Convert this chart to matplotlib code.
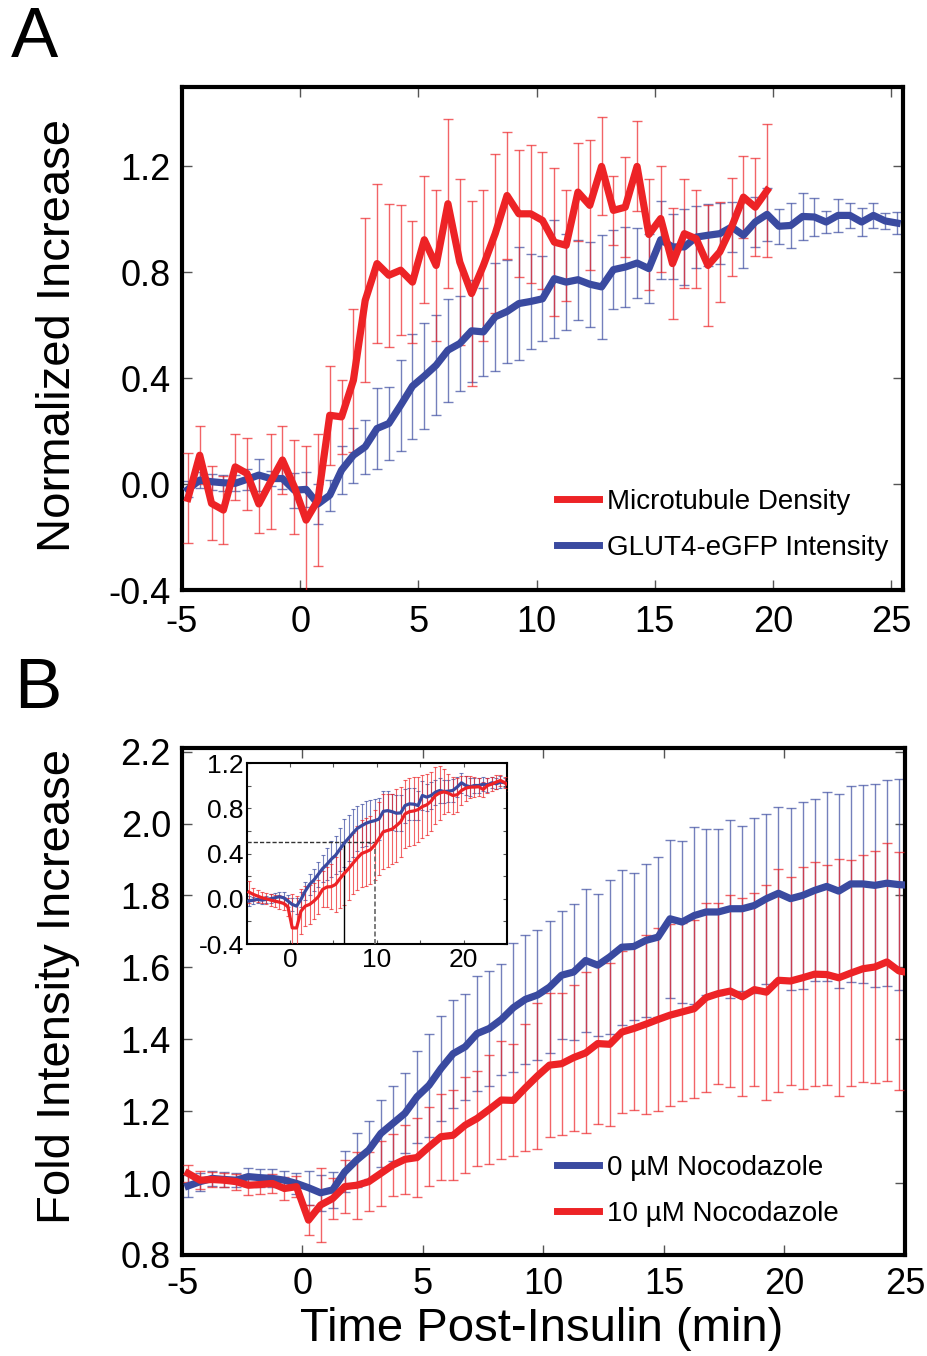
import matplotlib
matplotlib.use("Agg")
import matplotlib.pyplot as plt
from matplotlib.colors import to_rgba
from matplotlib.ticker import MultipleLocator, FormatStrFormatter
import numpy as np

plt.rcParams['font.family'] = ['Liberation Sans', 'DejaVu Sans']
plt.rcParams['axes.unicode_minus'] = False

RED = '#ed2326'
BLUE = '#3a4aa0'
TICK_GREY = '#555555'

###================ Data =================###

# sampling grid, 0.5 min frames
time = np.arange(-4.75, 25.26, 0.5)
time_mt = time[:50]   # microtubule density only imaged to ~20 min

# Panel A
mt_density = [
    -0.054, 0.109, -0.073, -0.098, 0.065, 0.040, -0.075, 0.009, 0.091, -0.010,
    -0.136, -0.060, 0.260, 0.254, 0.392, 0.694, 0.833, 0.789, 0.808, 0.763,
    0.923, 0.826, 1.059, 0.839, 0.720, 0.826, 0.946, 1.090, 1.021, 1.021,
    0.996, 0.914, 0.902, 1.103, 1.053, 1.200, 1.034, 1.046, 1.200, 0.943,
    1.003, 0.833, 0.946, 0.927, 0.826, 0.877, 0.971, 1.084, 1.046, 1.109,
]
mt_density_err = [
    0.17, 0.11, 0.14, 0.13, 0.126, 0.136, 0.11, 0.18, 0.13, 0.177,
    0.28, 0.25, 0.187, 0.14, 0.27, 0.31, 0.30, 0.27, 0.245, 0.23,
    0.24, 0.285, 0.32, 0.315, 0.35, 0.285, 0.30, 0.24, 0.24, 0.26,
    0.26, 0.28, 0.21, 0.185, 0.245, 0.185, 0.13, 0.19, 0.17, 0.21,
    0.20, 0.21, 0.205, 0.185, 0.23, 0.19, 0.185, 0.155, 0.185, 0.25,
]
glut4_norm = [
    -0.020, 0.015, 0.009, 0.005, 0.003, 0.018, 0.034, 0.021, 0.021, -0.023,
    -0.020, -0.075, -0.042, 0.053, 0.109, 0.141, 0.210, 0.229, 0.298, 0.370,
    0.408, 0.449, 0.506, 0.531, 0.579, 0.575, 0.632, 0.652, 0.682, 0.690,
    0.700, 0.776, 0.763, 0.772, 0.755, 0.745, 0.810, 0.820, 0.835, 0.814,
    0.923, 0.896, 0.896, 0.933, 0.940, 0.946, 0.971, 0.940, 0.990, 1.019,
    0.974, 0.977, 1.011, 1.009, 0.990, 1.015, 1.015, 0.990, 1.015, 0.994,
    0.986,
]
glut4_norm_err = [
    0.03, 0.03, 0.03, 0.03, 0.03, 0.04, 0.06, 0.03, 0.04, 0.066,
    0.067, 0.077, 0.058, 0.09, 0.103, 0.102, 0.154, 0.137, 0.172, 0.198,
    0.20, 0.189, 0.195, 0.179, 0.192, 0.166, 0.205, 0.195, 0.215, 0.18,
    0.16, 0.223, 0.18, 0.151, 0.16, 0.195, 0.148, 0.151, 0.132, 0.13,
    0.148, 0.123, 0.145, 0.116, 0.117, 0.116, 0.094, 0.125, 0.094, 0.10,
    0.067, 0.084, 0.088, 0.072, 0.042, 0.063, 0.046, 0.053, 0.046, 0.03,
    0.04,
]

# Panel B, fold intensity
noc0_fold = [
    0.992, 1.004, 1.013, 1.010, 1.008, 1.018, 1.015, 1.013, 1.008, 0.999,
    0.987, 0.973, 0.981, 1.031, 1.064, 1.092, 1.138, 1.166, 1.194, 1.240,
    1.272, 1.319, 1.360, 1.379, 1.416, 1.430, 1.455, 1.488, 1.511, 1.523,
    1.545, 1.578, 1.587, 1.619, 1.606, 1.629, 1.656, 1.658, 1.675, 1.684,
    1.735, 1.726, 1.744, 1.754, 1.754, 1.763, 1.763, 1.772, 1.791, 1.806,
    1.791, 1.800, 1.814, 1.825, 1.812, 1.832, 1.832, 1.828, 1.834, 1.830,
    1.828,
]
noc0_fold_err = [
    0.03, 0.025, 0.02, 0.02, 0.02, 0.025, 0.025, 0.025, 0.025, 0.03,
    0.047, 0.05, 0.051, 0.057, 0.074, 0.081, 0.094, 0.105, 0.111, 0.128,
    0.144, 0.145, 0.15, 0.148, 0.159, 0.159, 0.155, 0.179, 0.18, 0.182,
    0.183, 0.178, 0.188, 0.199, 0.197, 0.215, 0.215, 0.205, 0.213, 0.222,
    0.219, 0.225, 0.247, 0.231, 0.231, 0.248, 0.229, 0.244, 0.236, 0.241,
    0.253, 0.259, 0.253, 0.262, 0.27, 0.273, 0.276, 0.282, 0.287, 0.294,
    0.295,
]
noc10_fold = [
    1.027, 1.008, 1.010, 1.008, 1.004, 0.994, 0.996, 0.999, 0.985, 0.990,
    0.897, 0.939, 0.957, 0.990, 0.994, 1.004, 1.027, 1.050, 1.066, 1.071,
    1.101, 1.129, 1.133, 1.161, 1.180, 1.205, 1.231, 1.230, 1.265, 1.298,
    1.328, 1.332, 1.349, 1.362, 1.388, 1.386, 1.420, 1.430, 1.442, 1.455,
    1.467, 1.476, 1.485, 1.516, 1.527, 1.534, 1.518, 1.538, 1.531, 1.564,
    1.562, 1.571, 1.581, 1.580, 1.571, 1.584, 1.596, 1.601, 1.615, 1.590,
    1.584,
]
noc10_fold_err = [
    0.023, 0.025, 0.02, 0.02, 0.022, 0.028, 0.025, 0.026, 0.031, 0.03,
    0.042, 0.104, 0.056, 0.073, 0.093, 0.083, 0.09, 0.087, 0.096, 0.11,
    0.11, 0.12, 0.125, 0.133, 0.132, 0.151, 0.163, 0.156, 0.177, 0.204,
    0.2, 0.197, 0.203, 0.224, 0.223, 0.227, 0.225, 0.228, 0.249, 0.254,
    0.254, 0.248, 0.248, 0.262, 0.251, 0.268, 0.275, 0.269, 0.299, 0.31,
    0.29, 0.308, 0.311, 0.306, 0.33, 0.314, 0.316, 0.323, 0.33, 0.332,
    0.33,
]

# Panel B inset, normalized
noc0_norm = [
    -0.02, -0.012, -0.006, -0.012, -0.006, 0.0, 0.009, 0.018, 0.009, -0.02,
    -0.05, -0.065, -0.006, 0.068, 0.127, 0.166, 0.216, 0.267, 0.305, 0.35,
    0.385, 0.439, 0.492, 0.536, 0.581, 0.622, 0.646, 0.667, 0.681, 0.69,
    0.705, 0.773, 0.779, 0.77, 0.756, 0.759, 0.824, 0.839, 0.836, 0.824,
    0.913, 0.898, 0.913, 0.942, 0.957, 0.948, 0.951, 0.957, 0.987, 1.025,
    1.001, 0.99, 1.001, 1.001, 1.013, 1.007, 1.025, 1.016, 1.031, 1.025,
    1.016,
]
noc0_norm_err = [
    0.04, 0.03, 0.03, 0.03, 0.03, 0.04, 0.04, 0.04, 0.05, 0.05,
    0.06, 0.07, 0.07, 0.08, 0.09, 0.10, 0.11, 0.12, 0.14, 0.16,
    0.17, 0.19, 0.21, 0.20, 0.21, 0.20, 0.19, 0.20, 0.19, 0.19,
    0.19, 0.18, 0.17, 0.16, 0.16, 0.16, 0.15, 0.14, 0.14, 0.13,
    0.13, 0.12, 0.12, 0.11, 0.11, 0.10, 0.10, 0.10, 0.09, 0.09,
    0.08, 0.08, 0.07, 0.07, 0.06, 0.06, 0.05, 0.05, 0.05, 0.04,
    0.04,
]
noc10_norm = [
    0.059, 0.039, 0.024, 0.009, 0.0, -0.012, -0.02, -0.03, -0.041, -0.071,
    -0.258, -0.258, -0.11, -0.065, -0.05, -0.02, 0.018, 0.083, 0.104, 0.107,
    0.127, 0.178, 0.225, 0.267, 0.314, 0.359, 0.40, 0.415, 0.433, 0.474,
    0.533, 0.593, 0.604, 0.616, 0.646, 0.681, 0.75, 0.77, 0.776, 0.788,
    0.815, 0.83, 0.862, 0.913, 0.936, 0.945, 0.933, 0.913, 0.919, 0.957,
    0.978, 0.987, 0.987, 0.99, 0.966, 1.001, 1.013, 1.031, 1.046, 1.025,
    1.001,
]
noc10_norm_err = [
    0.10, 0.06, 0.05, 0.05, 0.05, 0.05, 0.05, 0.06, 0.06, 0.08,
    0.30, 0.28, 0.20, 0.18, 0.17, 0.16, 0.15, 0.16, 0.18, 0.20,
    0.24, 0.26, 0.28, 0.28, 0.27, 0.28, 0.30, 0.30, 0.30, 0.31,
    0.32, 0.33, 0.32, 0.31, 0.32, 0.31, 0.30, 0.30, 0.30, 0.29,
    0.28, 0.27, 0.26, 0.25, 0.24, 0.20, 0.17, 0.16, 0.15, 0.13,
    0.11, 0.10, 0.09, 0.08, 0.07, 0.07, 0.06, 0.06, 0.05, 0.05,
    0.05,
]

# half-max markers in the inset
half_level = 0.5
half_time_noc0 = 6.2
half_time_noc10 = 9.8


###================ Plot helper functions =================###

def draw_series(ax, t, y, err, color, label=None, lw=5.2, elw=1.0, cap=3.6, z=2):
    ax.errorbar(t, y, yerr=err, fmt='none', ecolor=to_rgba(color, 0.7),
                elinewidth=elw, capsize=cap, capthick=elw, zorder=z)
    ax.plot(t, y, color=color, lw=lw, label=label, zorder=z + 5,
            solid_joinstyle='round')


def style_main_axes(ax, xpad=12):
    for s in ax.spines.values():
        s.set_linewidth(3.0)
    ax.tick_params(which='both', direction='in', top=True, right=True,
                   length=7.5, width=1.0, color=TICK_GREY, labelsize=26)
    ax.tick_params(axis='x', pad=xpad)
    ax.tick_params(axis='y', pad=8)


def add_legend(ax, anchor, handles=None, labels=None):
    if handles is None:
        handles, labels = ax.get_legend_handles_labels()
    leg = ax.legend(handles, labels, loc='upper left', bbox_to_anchor=anchor,
                    frameon=False, fontsize=20, handlelength=1.5,
                    handletextpad=0.3, labelspacing=0.72, borderpad=0,
                    borderaxespad=0)
    for h in leg.get_lines():
        h.set_linewidth(5.0)
    return leg


fig = plt.figure(figsize=(9.28, 13.56), dpi=100)

###================ Panel A =================###
ax_a = fig.add_axes([182 / 928, 1 - 590 / 1356, 721 / 928, 503 / 1356])
draw_series(ax_a, time, glut4_norm, glut4_norm_err, BLUE, z=2)
draw_series(ax_a, time_mt, mt_density, mt_density_err, RED, z=3)
ax_a.set_xlim(-5, 25.5)
ax_a.set_ylim(-0.4, 1.5)
ax_a.xaxis.set_major_locator(MultipleLocator(5))
ax_a.yaxis.set_major_locator(MultipleLocator(0.4))
ax_a.yaxis.set_major_formatter(FormatStrFormatter('%.1f'))
style_main_axes(ax_a, xpad=11)
ax_a.set_ylabel('Normalized Increase', fontsize=34)
ax_a.yaxis.set_label_coords(-0.141, 0.505)

# legend in reference order: red first
h_red, = ax_a.plot([], [], color=RED, lw=5)
h_blue, = ax_a.plot([], [], color=BLUE, lw=5)
add_legend(ax_a, (0.520, 0.201), [h_red, h_blue],
           ['Microtubule Density', 'GLUT4-eGFP Intensity'])

###================ Panel B =================###
ax_b = fig.add_axes([182 / 928, 1 - 1255 / 1356, 723 / 928, 507 / 1356])
draw_series(ax_b, time, noc0_fold, noc0_fold_err, BLUE, label='0 µM Nocodazole', z=2)
draw_series(ax_b, time, noc10_fold, noc10_fold_err, RED, label='10 µM Nocodazole', z=3)
ax_b.set_xlim(-5, 25)
ax_b.set_ylim(0.8, 2.21)
ax_b.xaxis.set_major_locator(MultipleLocator(5))
ax_b.yaxis.set_major_locator(MultipleLocator(0.2))
ax_b.yaxis.set_major_formatter(FormatStrFormatter('%.1f'))
style_main_axes(ax_b, xpad=9)
ax_b.set_ylabel('Fold Intensity Increase', fontsize=34)
ax_b.yaxis.set_label_coords(-0.141, 0.53)
ax_b.set_xlabel('Time Post-Insulin (min)', fontsize=34)
ax_b.xaxis.set_label_coords(0.497, -0.103)
add_legend(ax_b, (0.519, 0.197))

###================ Inset =================###
ax_in = fig.add_axes([246.7 / 928, 1 - 944 / 1356, 260.3 / 928, 181 / 1356])
ax_in.set_facecolor('white')
ax_in.set_zorder(10)
draw_series(ax_in, time, noc0_norm, noc0_norm_err, BLUE, lw=2.3, elw=0.8, cap=1.6, z=2)
draw_series(ax_in, time, noc10_norm, noc10_norm_err, RED, lw=2.3, elw=0.8, cap=1.6, z=3)
ax_in.plot([-5, half_time_noc10], [half_level, half_level], color='#333333',
           lw=1.0, ls=(0, (3, 1.5)), zorder=6)
ax_in.plot([half_time_noc0, half_time_noc0], [-0.4, half_level], color='black',
           lw=1.0, zorder=6)
ax_in.plot([half_time_noc10, half_time_noc10], [-0.4, half_level], color='#666666',
           lw=1.2, ls=(0, (3, 1.5)), zorder=6)
ax_in.set_xlim(-5, 25)
ax_in.set_ylim(-0.4, 1.2)
ax_in.xaxis.set_major_locator(MultipleLocator(10))
ax_in.xaxis.set_minor_locator(MultipleLocator(5))
ax_in.yaxis.set_major_locator(MultipleLocator(0.4))
ax_in.yaxis.set_minor_locator(MultipleLocator(0.2))
ax_in.yaxis.set_major_formatter(FormatStrFormatter('%.1f'))
for s in ax_in.spines.values():
    s.set_linewidth(1.5)
ax_in.tick_params(which='both', direction='in', top=True, right=True,
                  length=3, width=0.8, color=TICK_GREY, labelsize=19, pad=2)
ax_in.tick_params(axis='x', pad=3)

###================ Panel letters =================###
fig.text(11 / 928, 1 - 57 / 1356, 'A', fontsize=51, va='baseline', ha='left')
fig.text(14 / 928, 1 - 708 / 1356, 'B', fontsize=51, va='baseline', ha='left')

fig.savefig('out.png', dpi=100)
